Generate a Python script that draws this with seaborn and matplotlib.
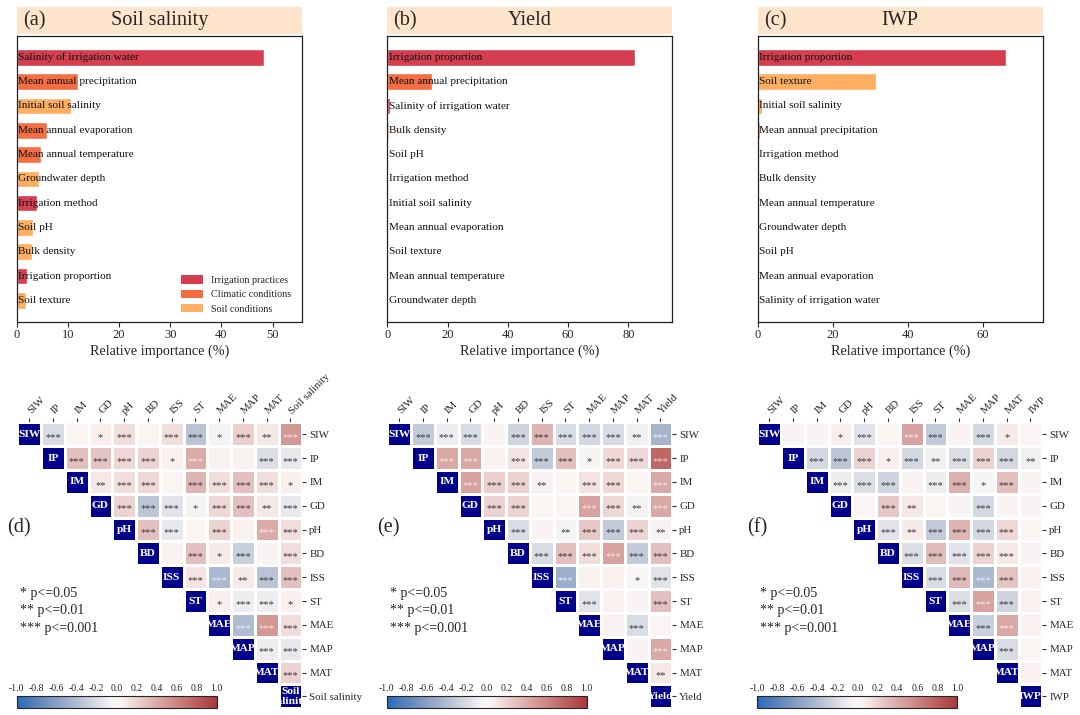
import numpy as np
import pandas as pd
import matplotlib
matplotlib.use('Agg')
import matplotlib.pyplot as plt
import seaborn as sns
from matplotlib.colors import ListedColormap
from matplotlib.patches import Rectangle, Patch

sns.set_style('ticks')
plt.rcParams['font.family'] = ['Liberation Serif', 'DejaVu Serif']
plt.rcParams['axes.unicode_minus'] = False

# ---------------- data ----------------
groups = ['Irrigation practices', 'Climatic conditions', 'Soil conditions']
group_colors = ['#d53e4f', '#f46d43', '#fdae61']

factor_group = {
    'Salinity of irrigation water': 'Irrigation practices',
    'Irrigation proportion': 'Irrigation practices',
    'Irrigation method': 'Irrigation practices',
    'Mean annual precipitation': 'Climatic conditions',
    'Mean annual evaporation': 'Climatic conditions',
    'Mean annual temperature': 'Climatic conditions',
    'Initial soil salinity': 'Soil conditions',
    'Groundwater depth': 'Soil conditions',
    'Soil pH': 'Soil conditions',
    'Bulk density': 'Soil conditions',
    'Soil texture': 'Soil conditions',
}

sal_factors = ['Salinity of irrigation water', 'Mean annual precipitation', 'Initial soil salinity',
               'Mean annual evaporation', 'Mean annual temperature', 'Groundwater depth',
               'Irrigation method', 'Soil pH', 'Bulk density', 'Irrigation proportion', 'Soil texture']
sal_importance = [48.4, 11.9, 10.7, 6.0, 4.8, 4.3, 3.9, 3.2, 2.9, 2.0, 1.8]

yld_factors = ['Irrigation proportion', 'Mean annual precipitation', 'Salinity of irrigation water',
               'Bulk density', 'Soil pH', 'Irrigation method', 'Initial soil salinity',
               'Mean annual evaporation', 'Soil texture', 'Mean annual temperature', 'Groundwater depth']
yld_importance = [82.2, 14.8, 0.8, 0.6, 0.2, 0.3, 0.15, 0.15, 0.1, 0.1, 0.1]

iwp_factors = ['Irrigation proportion', 'Soil texture', 'Initial soil salinity', 'Mean annual precipitation',
               'Irrigation method', 'Bulk density', 'Mean annual temperature', 'Groundwater depth',
               'Soil pH', 'Mean annual evaporation', 'Salinity of irrigation water']
iwp_importance = [66.1, 31.6, 1.2, 0.6, 0.2, 0.15, 0.1, 0.1, 0.1, 0.1, 0.1]

abbrevs = ['SIW', 'IP', 'IM', 'GD', 'pH', 'BD', 'ISS', 'ST', 'MAE', 'MAP', 'MAT']

# upper-triangle correlations (row i, columns i+1 ... end)
sal_r = [
    [-0.20, 0.02, 0.07, 0.15, 0.02, 0.15, -0.35, -0.06, 0.22, 0.10, 0.50],
    [0.30, 0.28, 0.18, 0.20, 0.05, 0.40, 0.04, 0.04, -0.18, -0.12],
    [0.10, 0.15, 0.18, 0.02, 0.35, 0.15, 0.30, 0.15, 0.06],
    [0.20, -0.33, -0.15, -0.05, 0.18, 0.30, 0.10, -0.12],
    [0.30, -0.12, 0.02, 0.20, 0.04, 0.40, 0.15],
    [0.04, 0.30, 0.08, -0.28, 0.03, 0.15],
    [0.12, -0.42, 0.08, -0.35, 0.30],
    [0.06, -0.10, -0.10, 0.06],
    [-0.40, 0.50, 0.15],
    [-0.10, -0.12],
    [0.20],
]
sal_p = [
    ['***', '', '*', '***', '', '***', '***', '*', '***', '**', '***'],
    ['***', '***', '***', '***', '*', '***', '', '', '***', '***'],
    ['**', '***', '***', '', '***', '***', '***', '***', '*'],
    ['***', '***', '***', '*', '***', '***', '**', '***'],
    ['***', '***', '', '***', '', '***', '***'],
    ['', '***', '*', '***', '', '***'],
    ['***', '***', '**', '***', '***'],
    ['*', '***', '***', '*'],
    ['***', '***', '***'],
    ['***', '***'],
    ['***'],
]

yld_r = [
    [-0.30, -0.10, -0.20, 0.03, -0.25, 0.35, -0.20, -0.22, -0.20, -0.08, -0.45],
    [0.42, 0.42, 0.03, 0.12, -0.30, 0.30, -0.04, 0.18, 0.18, 0.75],
    [0.45, 0.22, 0.20, -0.06, 0.02, 0.12, 0.18, 0.02, 0.42],
    [0.20, 0.20, 0.02, 0.02, 0.45, 0.18, -0.06, 0.42],
    [-0.20, 0.03, -0.05, 0.25, -0.30, 0.20, -0.05],
    [-0.20, 0.30, 0.15, 0.45, -0.30, 0.30],
    [-0.50, 0.04, 0.04, -0.03, -0.15],
    [-0.15, 0.04, 0.03, 0.30],
    [0.04, -0.20, 0.01],
    [0.03, 0.42],
    [0.10],
]
yld_p = [
    ['***', '***', '***', '', '***', '***', '***', '***', '***', '**', '***'],
    ['***', '***', '', '***', '***', '***', '*', '***', '***', '***'],
    ['***', '***', '***', '**', '', '***', '***', '', '***'],
    ['***', '***', '', '', '***', '***', '**', '***'],
    ['***', '', '**', '***', '***', '***', '**'],
    ['***', '***', '***', '***', '***', '***'],
    ['***', '', '', '*', '***'],
    ['***', '', '', '***'],
    ['', '***', ''],
    ['', '***'],
    ['**'],
]

iwp_r = [
    [0.03, 0.03, 0.07, -0.15, 0.02, 0.45, -0.30, 0.03, -0.22, 0.08, 0.01],
    [-0.22, -0.33, 0.20, 0.06, -0.22, -0.08, -0.18, 0.20, -0.22, -0.08],
    [-0.10, -0.18, -0.25, 0.03, -0.10, 0.37, -0.04, 0.30, 0.03],
    [0.01, 0.25, 0.10, 0.02, 0.03, -0.22, 0.03, 0.03],
    [-0.15, 0.08, -0.30, 0.35, -0.22, 0.18, 0.02],
    [-0.18, 0.32, -0.15, 0.20, 0.10, 0.03],
    [-0.20, 0.33, -0.42, 0.28, 0.04],
    [-0.18, 0.45, -0.25, 0.04],
    [-0.28, 0.42, 0.05],
    [-0.20, 0.02],
    [0.05],
]
iwp_p = [
    ['', '', '*', '***', '', '***', '***', '', '***', '*', ''],
    ['***', '***', '***', '*', '***', '**', '***', '***', '***', '**'],
    ['***', '***', '***', '', '***', '***', '*', '***', ''],
    ['', '***', '**', '', '', '***', '', ''],
    ['***', '**', '***', '***', '***', '***', ''],
    ['***', '***', '***', '***', '***', ''],
    ['***', '***', '***', '***', ''],
    ['***', '***', '***', ''],
    ['***', '***', ''],
    ['***', ''],
    [''],
]

W, H = 1080, 715
fig = plt.figure(figsize=(W / 100, H / 100), dpi=100)


def fx(px):
    return px / W


def fy(py):
    return 1 - py / H


def draw_bar(left, right, letter, title, factors, values, xmax, xticks, legend):
    top, bottom = 36.0, 321.7
    ax = fig.add_axes([fx(left), fy(bottom), fx(right - left), (bottom - top) / H])
    df = pd.DataFrame({'factor': factors, 'group': [factor_group[f] for f in factors], 'value': values})
    sns.barplot(data=df, x='value', y='factor', hue='group', hue_order=groups, palette=group_colors,
                dodge=False, orient='h', width=0.68, saturation=1, ax=ax, legend=False)
    for i, f in enumerate(factors):
        ax.annotate(f, xy=(0, i), xytext=(1.0, 0), textcoords='offset points',
                    ha='left', va='center', fontsize=8.1, color='#111111')
    ax.set_ylim(len(factors) - 1 + 0.88, -0.88)
    ax.set_xlim(0, xmax)
    ax.set_xticks(xticks)
    ax.set_yticks([])
    ax.set_ylabel('')
    ax.set_xlabel('Relative importance (%)', fontsize=10.3, labelpad=2)
    ax.tick_params(axis='x', labelsize=9, length=3.5, width=0.8, pad=2)
    for s in ax.spines.values():
        s.set_visible(True)
        s.set_linewidth(0.9)
        s.set_color('#222222')
    if legend:
        handles = [Patch(facecolor=c, edgecolor='none') for c in group_colors]
        ax.legend(handles, groups, loc='lower right', frameon=False, fontsize=7.3,
                  handlelength=2.2, handleheight=0.9, labelspacing=0.45, handletextpad=0.75,
                  borderaxespad=0.4, bbox_to_anchor=(0.99, 0.0))
    band = fig.add_axes([fx(left), fy(34.3), fx(right - left), 27 / H])
    band.set_facecolor('#fde4cb')
    band.set_xticks([])
    band.set_yticks([])
    for s in band.spines.values():
        s.set_visible(False)
    band.text(0.021, 0.5, letter, ha='left', va='center', fontsize=14.6, transform=band.transAxes)
    band.text(0.5, 0.5, title, ha='center', va='center', fontsize=14.6, transform=band.transAxes)
    return ax


def draw_heat(left, right, letter, target, diag_target, r_rows, p_rows, cb_left):
    top, bottom = 422.3, 708.3
    ax = fig.add_axes([fx(left), fy(bottom), fx(right - left), (bottom - top) / H])
    names = abbrevs + [target]
    n = len(names)
    M = np.full((n, n), np.nan)
    S = np.full((n, n), '', dtype=object)
    for i, row in enumerate(r_rows):
        for k, v in enumerate(row):
            M[i, i + 1 + k] = v
            S[i, i + 1 + k] = p_rows[i][k]
    np.fill_diagonal(M, 1.0)
    df = pd.DataFrame(M, index=names, columns=names)
    mask_up = ~np.triu(np.ones((n, n), dtype=bool), k=1)
    sns.heatmap(df, mask=mask_up, cmap='vlag', vmin=-1, vmax=1, linewidths=1,
                linecolor='white', cbar=False, ax=ax)
    mask_diag = ~np.eye(n, dtype=bool)
    sns.heatmap(df, mask=mask_diag, cmap=ListedColormap(['#00008b']), linewidths=1,
                linecolor='white', cbar=False, ax=ax)
    for i in range(n):
        for j in range(i + 1, n):
            s = S[i, j]
            if not s:
                continue
            col = (1, 1, 1, 0.75) if abs(M[i, j]) >= 0.38 else '#3a3a3a'
            ax.text(j + 0.5, i + 0.64, s, ha='center', va='center', fontsize=7.6, color=col)
    diag_labels = abbrevs + [diag_target]
    for i, lab in enumerate(diag_labels):
        t = ax.text(i + 0.5, i + 0.5, lab, ha='center', va='center', fontsize=8.2,
                    fontweight='bold', color='white', linespacing=1.15)
        t.set_clip_path(Rectangle((i, i), 1, 1, transform=ax.transData))
    ax.xaxis.tick_top()
    ax.yaxis.tick_right()
    ax.set_xticks(np.arange(n) + 0.5)
    ax.set_xticklabels(names, rotation=45, ha='left', va='center', rotation_mode='anchor', fontsize=7.8)
    ax.set_yticks(np.arange(n) + 0.5)
    ax.set_yticklabels(names, rotation=0, fontsize=7.8)
    ax.tick_params(axis='both', length=3, width=0.8, color='#333333', pad=2)
    ax.tick_params(axis='x', pad=4)
    ax.set_xlabel('')
    ax.set_ylabel('')
    fig.text(fx(left - 10), fy(528), letter, ha='left', va='center', fontsize=14.6)
    for k, (txt, yy) in enumerate(zip(['* p<=0.05', '** p<=0.01', '*** p<=0.001'], [593.3, 610.7, 628.3])):
        fig.text(fx(left + 3), fy(yy), txt, ha='left', va='center', fontsize=10.1)
    cax = fig.add_axes([fx(cb_left), fy(707.7), fx(200), 11.7 / H])
    cb = fig.colorbar(ax.collections[0], cax=cax, orientation='horizontal')
    cax.xaxis.set_ticks_position('top')
    cb.set_ticks(np.round(np.linspace(-1, 1, 11), 1))
    cb.set_ticklabels(['%.1f' % v for v in np.linspace(-1, 1, 11)])
    cax.tick_params(direction='in', length=3, width=0.8, labelsize=7, pad=2)
    cb.outline.set_linewidth(0.8)
    return ax


draw_bar(16.7, 301.7, '(a)', 'Soil salinity', sal_factors, sal_importance, 55.7, [0, 10, 20, 30, 40, 50], True)
draw_bar(387.3, 672.3, '(b)', 'Yield', yld_factors, yld_importance, 94.6, [0, 20, 40, 60, 80], False)
draw_bar(757.7, 1042.7, '(c)', 'IWP', iwp_factors, iwp_importance, 76.0, [0, 20, 40, 60], False)

draw_heat(17.3, 302.3, '(d)', 'Soil salinity', 'Soil\nsalinity', sal_r, sal_p, 16.7)
draw_heat(387.3, 672.3, '(e)', 'Yield', 'Yield', yld_r, yld_p, 386.7)
draw_heat(757.3, 1042.3, '(f)', 'IWP', 'IWP', iwp_r, iwp_p, 757.3)

fig.savefig('out.png', dpi=100)
